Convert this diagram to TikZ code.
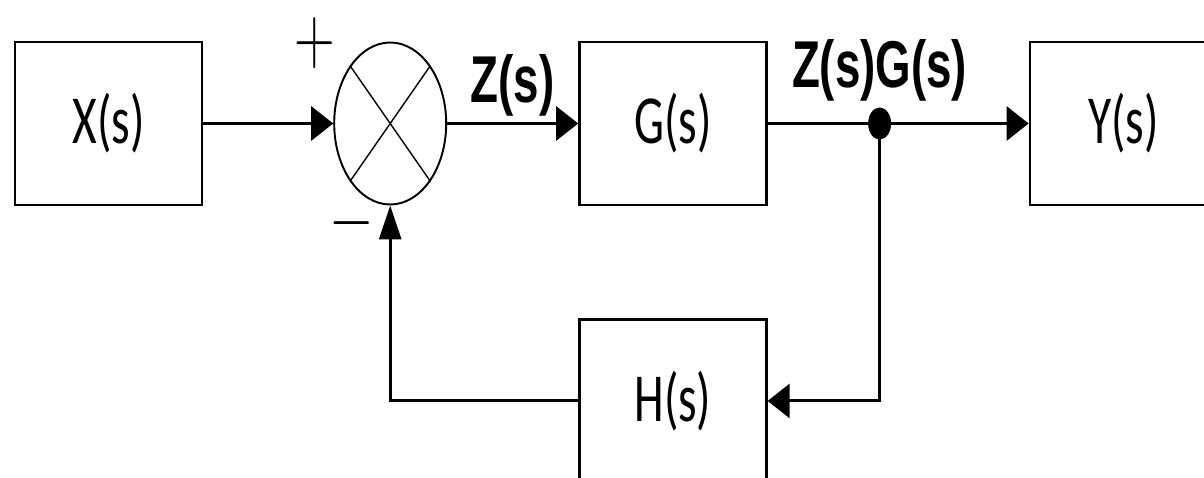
\documentclass[tikz,border=0pt]{standalone}
\usepackage{fontspec}
\newfontfamily\boxfont{Carlito}
\newfontfamily\lblfont{Liberation Sans}
\usepackage{graphicx}
\usetikzlibrary{positioning,arrows.meta,shapes.geometric}
\newcommand{\tall}[1]{\scalebox{1}[1.45]{#1}}

\begin{document}
\begin{tikzpicture}[
    every node/.style={font=\boxfont\fontsize{27}{30}\selectfont},
    box/.style={draw, line width=1.4pt, minimum width=3.74cm,
                minimum height=3.26cm, inner sep=0pt},
    sumnode/.style={draw, ellipse, line width=1.1pt, minimum width=2.24cm,
                    minimum height=3.24cm, inner sep=0pt},
    jdot/.style={ellipse, fill=black, minimum width=0.46cm,
                 minimum height=0.64cm, inner sep=0pt},
    lbl/.style={font=\lblfont\bfseries\fontsize{26}{30}\selectfont},
    sgn/.style={font=\rmfamily\fontsize{32}{36}\selectfont, inner sep=0pt},
    arr/.style={-{Triangle[length=4.4mm, width=6.8mm]}, line width=1.7pt},
    varr/.style={-{Triangle[length=6.8mm, width=4.4mm]}, line width=1.7pt}]
  \useasboundingbox (0,0) rectangle (24.08,-9.56);
  \clip (0,0) rectangle (24.08,-9.56);
  \node[box]                      (xs)  at (2.17,-2.47) {\tall{X(s)}};
  \node[sumnode, right=2.6cm of xs]  (sum) {};
  \node[box, right=2.62cm of sum] (gs)  {\tall{G(s)}};
  \node[box, right=5.22cm of gs]  (ys)  {\tall{Y(s)}};
  \node[box, below=2.24cm of gs]  (hs)  {\tall{H(s)}};
  \node[jdot] (jn) at ([xshift=2.24cm]gs.east) {};
  \draw[line width=0.8pt] (sum.north west) -- (sum.south east);
  \draw[line width=0.8pt] (sum.north east) -- (sum.south west);
  \node[sgn] (plus)  at ([xshift=-1.5cm, yshift=1.6cm]sum.center)  {\tall{+}};
  \node[sgn] (minus) at ([xshift=-0.76cm, yshift=-2.18cm]sum.center) {\tall{−}};
  \node[lbl, above=0pt of jn] (zg) {\tall{Z(s)G(s)}};
  \draw[arr] (xs.east) -- (sum.west);
  \draw[arr] (sum.east) -- node[lbl, above] (zs) {\tall{Z(s)}} (gs.west);
  \draw[arr] (gs.east) -- (ys.west);
  \draw[arr] (jn.center) |- (hs.east);
  \draw[varr] (hs.west) -| (sum.south);
\end{tikzpicture}
\end{document}
